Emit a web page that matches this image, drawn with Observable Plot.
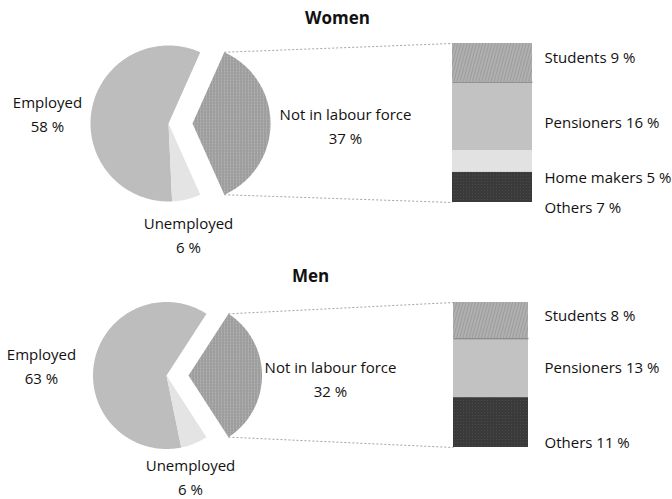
<!DOCTYPE html>
<html><head><meta charset="utf-8">
<script src="https://cdn.jsdelivr.net/npm/d3@7"></script>
<script src="https://cdn.jsdelivr.net/npm/@observablehq/plot@0.6"></script>
<style>body{margin:0;background:#fff} svg{display:block}</style>
</head><body><div id="chart"></div>
<script>
// ---- data ----
const panels = ["Women", "Men"];
const mainCategories = ["Employed", "Unemployed", "Not in labour force"];
const womenMain = [58, 6, 37];
const menMain = [63, 6, 32];
const womenBreakCats = ["Students", "Pensioners", "Home makers", "Others"];
const womenBreak = [9, 16, 5, 7];
const menBreakCats = ["Students", "Pensioners", "Others"];
const menBreak = [8, 13, 11];

// ---- styles & layout (not data) ----
const sliceFill = {"Employed": "#bdbdbd", "Unemployed": "#e4e4e4", "Not in labour force": "url(#cross)"};
const breakFill = {"Students": "url(#diag)", "Pensioners": "#c2c2c2", "Home makers": "#e2e2e2", "Others": "url(#dark)"};
const layout = {
  Women: {cx: 168, cy: 123, r: 78, explode: 24, barX1: 452, barX2: 532, barTop: 43, barBottom: 202,
    title: [337, 18],
    mainLabels: {"Employed": [47, 112], "Unemployed": [188, 233], "Not in labour force": [345, 124]},
    breakLabelX: 544, breakLabelY: {"Students": 58, "Pensioners": 123, "Home makers": 178, "Others": 208}},
  Men: {cx: 166, cy: 375, r: 73.5, explode: 22, barX1: 453, barX2: 528, barTop: 302, barBottom: 447,
    title: [310, 276],
    mainLabels: {"Employed": [41, 364], "Unemployed": [190, 475], "Not in labour force": [330, 377]},
    breakLabelX: 544, breakLabelY: {"Students": 316, "Pensioners": 368, "Others": 443}}
};

const mainData = {Women: womenMain, Men: menMain};
const breakCats = {Women: womenBreakCats, Men: menBreakCats};
const breakData = {Women: womenBreak, Men: menBreak};

const slicePts = [], bars = [], links = [], labels = [], titles = [], seps = [];
const rad = Math.PI / 180;
for (const p of panels) {
  const L = layout[p];
  const vals = mainData[p];
  const total = d3.sum(vals);
  const deg = vals.map(v => v / total * 360);
  const h = deg[2] / 2;
  const spans = {
    "Not in labour force": [-h, h, L.explode],
    "Unemployed": [h, h + deg[1], 0],
    "Employed": [h + deg[1], 360 - h, 0]
  };
  for (const [cat, [a0, a1, dx]] of Object.entries(spans)) {
    const key = p + "|" + cat;
    const cx = L.cx + dx;
    slicePts.push({key, cat, x: cx, y: L.cy});
    const n = Math.max(2, Math.ceil(a1 - a0));
    for (let i = 0; i <= n; i++) {
      const a = (a0 + (a1 - a0) * i / n) * rad;
      slicePts.push({key, cat, x: cx + L.r * Math.cos(a), y: L.cy + L.r * Math.sin(a)});
    }
    slicePts.push({key, cat, x: cx, y: L.cy});
  }
  // connectors
  const ex = L.cx + L.explode;
  links.push({x1: ex + L.r * Math.cos(-h * rad), y1: L.cy + L.r * Math.sin(-h * rad), x2: L.barX1, y2: L.barTop});
  links.push({x1: ex + L.r * Math.cos(h * rad), y1: L.cy + L.r * Math.sin(h * rad), x2: L.barX1, y2: L.barBottom});
  // stacked bar
  const bv = breakData[p], bc = breakCats[p];
  const k = (L.barBottom - L.barTop) / d3.sum(bv);
  let cum = 0;
  bc.forEach((c, i) => {
    const y1 = L.barTop + cum * k;
    cum += bv[i];
    const y2 = L.barTop + cum * k;
    bars.push({cat: c, x1: L.barX1, x2: L.barX2, y1, y2});
    if (c === "Students") seps.push({x1: L.barX1, x2: L.barX2, y: y2});
    labels.push({x: L.breakLabelX, y: L.breakLabelY[c], text: `${c} ${bv[i]} %`, anchor: "start"});
  });
  mainCategories.forEach((c, i) => {
    const [x, y] = L.mainLabels[c];
    labels.push({x, y, text: `${c}\n${vals[i]} %`, anchor: "middle"});
  });
  titles.push({x: L.title[0], y: L.title[1], text: p});
}

const sliceMarks = mainCategories.map(cat =>
  Plot.line(slicePts.filter(d => d.cat === cat), {x: "x", y: "y", z: "key", fill: sliceFill[cat], stroke: "none", curve: "linear"})
);
const barMarks = Object.keys(breakFill).map(cat =>
  Plot.rect(bars.filter(d => d.cat === cat), {x1: "x1", x2: "x2", y1: "y1", y2: "y2", fill: breakFill[cat]})
);

const svg = Plot.plot({
  width: 672, height: 499,
  margin: 0,
  x: {domain: [0, 672], range: [0, 672], axis: null},
  y: {domain: [0, 499], range: [0, 499], axis: null},
  style: {fontFamily: "'Open Sans', sans-serif", background: "#fff"},
  marks: [
    ...sliceMarks,
    ...barMarks,
    Plot.link(seps, {x1: "x1", x2: "x2", y1: "y", y2: "y", stroke: "#7a7a7a", strokeWidth: 1}),
    Plot.link(links, {x1: "x1", y1: "y1", x2: "x2", y2: "y2", stroke: "#8a8a8a", strokeWidth: 0.8, strokeDasharray: "2,2"}),
    Plot.text(labels.filter(d => d.anchor === "middle"), {x: "x", y: "y", text: "text", textAnchor: "middle", fontSize: 15, lineHeight: 1.55, fill: "#111"}),
    Plot.text(labels.filter(d => d.anchor === "start"), {x: "x", y: "y", text: "text", textAnchor: "start", fontSize: 15, fill: "#111"}),
    Plot.text(titles, {x: "x", y: "y", text: "text", fontSize: 17, fontWeight: "bold", fill: "#111"})
  ]
});
svg.insertAdjacentHTML("afterbegin", `<defs>
  <pattern id="cross" width="3" height="3" patternUnits="userSpaceOnUse">
    <rect width="3" height="3" fill="#b2b2b2"/>
    <rect x="0" y="0" width="1" height="3" fill="#8e8e8e"/>
    <rect x="0" y="0" width="3" height="1" fill="#9c9c9c"/>
  </pattern>
  <pattern id="diag" width="3" height="3" patternUnits="userSpaceOnUse" patternTransform="rotate(15)">
    <rect width="3" height="3" fill="#b0b0b0"/>
    <rect x="0" y="0" width="1" height="3" fill="#9c9c9c"/>
  </pattern>
  <pattern id="dark" width="3" height="3" patternUnits="userSpaceOnUse">
    <rect width="3" height="3" fill="#3a3a3a"/>
    <rect x="1" y="1" width="1" height="1" fill="#4a4a4a"/>
  </pattern>
</defs>`);
document.getElementById("chart").appendChild(svg);
</script>
</body></html>
